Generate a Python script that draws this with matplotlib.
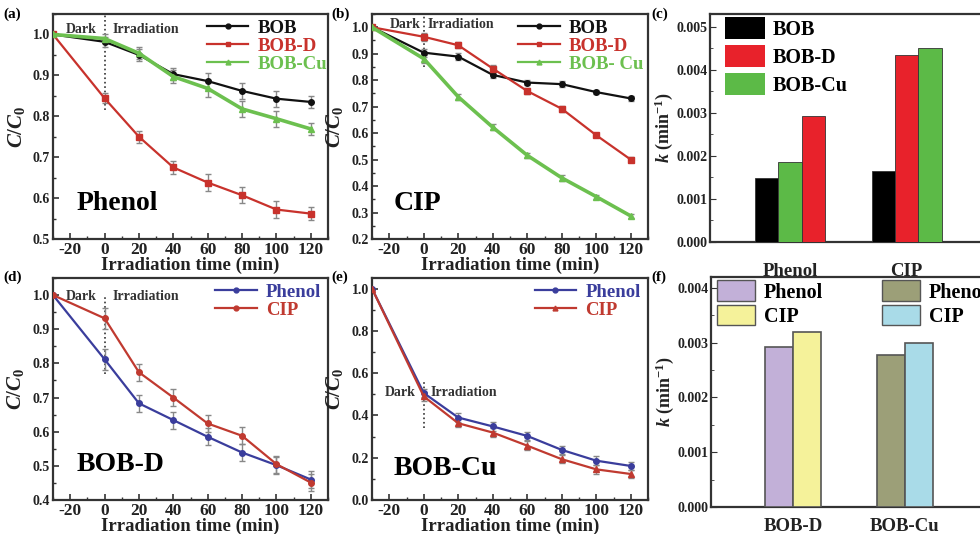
import matplotlib
matplotlib.use("Agg")
import matplotlib.pyplot as plt
from matplotlib.ticker import MultipleLocator, AutoMinorLocator, FormatStrFormatter
from matplotlib.patches import Patch
from matplotlib.lines import Line2D

plt.rcParams['font.family'] = ['Liberation Serif', 'DejaVu Serif']
plt.rcParams['font.weight'] = 'bold'
plt.rcParams['axes.labelweight'] = 'bold'
plt.rcParams['axes.unicode_minus'] = False
plt.rcParams['mathtext.fontset'] = 'custom'
plt.rcParams['mathtext.it'] = 'Liberation Serif:italic:bold'
plt.rcParams['mathtext.rm'] = 'Liberation Serif:bold'
plt.rcParams['mathtext.bf'] = 'Liberation Serif:bold'
plt.rcParams['axes.linewidth'] = 1.6
plt.rcParams['axes.edgecolor'] = '#333333'

# ---------------- data ----------------
time = [-30, 0, 20, 40, 60, 80, 100, 120]

# (a) Phenol
a_bob = [1.0, 0.982, 0.950, 0.903, 0.886, 0.862, 0.843, 0.835]
a_bobd = [1.0, 0.844, 0.750, 0.675, 0.638, 0.607, 0.572, 0.562]
a_bobcu = [1.0, 0.990, 0.954, 0.897, 0.868, 0.818, 0.794, 0.769]
a_err = [0.0, 0.012, 0.015, 0.015, 0.020, 0.020, 0.020, 0.015]

# (b) CIP
b_bob = [1.0, 0.904, 0.889, 0.820, 0.791, 0.785, 0.755, 0.731]
b_bobd = [1.0, 0.964, 0.932, 0.844, 0.759, 0.692, 0.592, 0.500]
b_bobcu = [1.0, 0.881, 0.737, 0.622, 0.516, 0.431, 0.360, 0.287]
b_err = [0.0, 0.015, 0.012, 0.012, 0.010, 0.012, 0.008, 0.008]

# (c) rate constants
c_groups = ['Phenol', 'CIP']
c_series = ['BOB', 'BOB-D', 'BOB-Cu']
c_values = {'BOB': [0.00148, 0.00166],
            'BOB-D': [0.00294, 0.00434],
            'BOB-Cu': [0.00187, 0.00451]}

# (d) BOB-D
d_phenol = [1.0, 0.812, 0.683, 0.634, 0.585, 0.539, 0.502, 0.460]
d_cip = [1.0, 0.932, 0.774, 0.700, 0.624, 0.588, 0.505, 0.451]
d_err = [0.0, 0.03, 0.025, 0.025, 0.025, 0.025, 0.025, 0.025]

# (e) BOB-Cu
e_phenol = [1.0, 0.506, 0.390, 0.348, 0.303, 0.237, 0.186, 0.161]
e_cip = [1.0, 0.490, 0.363, 0.319, 0.257, 0.193, 0.145, 0.123]
e_err = [0.0, 0.02, 0.02, 0.02, 0.02, 0.02, 0.02, 0.02]

# (f) rate constants
f_groups = ['BOB-D', 'BOB-Cu']
f_phenol = [0.00293, 0.00277]
f_cip = [0.00319, 0.00300]

# dotted Dark/Irradiation divider ranges (y extents)
dark_a = (0.815, 1.05)
dark_b = (0.85, 1.05)
dark_d = (0.77, 1.0)
dark_e = (0.34, 0.556)

# ---------------- styling ----------------
BLACK = '#111111'
RED = '#c8322c'
GREEN = '#6cc04f'
BLUE = '#3a3d9c'
RED2 = '#c03a30'
ERRC = '#888888'

fig = plt.figure(figsize=(9.8, 5.34), dpi=100)


def add_ax(l, r, t, b):
    return fig.add_axes([l / 980, 1 - b / 534, (r - l) / 980, (b - t) / 534])


def style_line_ax(ax, ylim, ymajor, ylx):
    ax.set_xlim(-30, 130)
    ax.set_ylim(*ylim)
    ax.xaxis.set_major_locator(MultipleLocator(20))
    ax.xaxis.set_minor_locator(MultipleLocator(10))
    ax.yaxis.set_major_locator(MultipleLocator(ymajor))
    ax.yaxis.set_minor_locator(AutoMinorLocator(2))
    ax.tick_params(which='both', direction='in', colors='#333333')
    ax.tick_params(which='major', length=4, width=1.2)
    ax.tick_params(which='minor', length=2, width=1.0)
    ax.tick_params(axis='x', labelsize=12.5, pad=2, labelcolor='#222222')
    ax.tick_params(axis='y', labelsize=10, pad=2, labelcolor='#222222')
    ax.set_xlabel('Irradiation time (min)', fontsize=13.5, labelpad=-1, color='#222222')
    ax.set_ylabel('$C/C_0$', fontsize=15, labelpad=0, color='#222222')
    ax.yaxis.set_label_coords(ylx, 0.5)


def series(ax, y, err, color, marker, lw=1.6, ms=4):
    ax.errorbar(time, y, yerr=err, color=color, marker=marker, ms=ms, lw=lw,
                ecolor=ERRC, elinewidth=1.0, capsize=2, capthick=1.0, zorder=3)


def line_legend(ax, items, x, y, fs=13.5):
    handles = [Line2D([], [], color=c, marker=m, ms=3.5, lw=1.6) for (_, c, m) in items]
    leg = ax.legend(handles, [t for (t, _, _) in items], loc='upper left',
                    bbox_to_anchor=(x, y), frameon=False, fontsize=fs,
                    handlelength=2.2, handletextpad=0.5, labelspacing=0.05,
                    borderpad=0, borderaxespad=0)
    for txt, (_, c, _) in zip(leg.get_texts(), items):
        txt.set_color(c)
    return leg


def dark_labels(ax, xd, yd, xi, yi, yr):
    ax.plot([0, 0], list(yr), ls=':', color='#333333', lw=1.2, zorder=2)
    ax.text(xd, yd, 'Dark', ha='center', va='center', fontsize=10, color='#333333')
    ax.text(xi, yi, 'Irradiation', ha='left', va='center', fontsize=10, color='#333333')


def style_bar_ax(ax, ylim, xpad):
    ax.set_ylim(*ylim)
    ax.tick_params(axis='x', length=0, pad=xpad, labelcolor='#222222')
    ax.yaxis.set_major_locator(MultipleLocator(0.001))
    ax.yaxis.set_minor_locator(AutoMinorLocator(2))
    ax.yaxis.set_major_formatter(FormatStrFormatter('%.3f'))
    ax.tick_params(axis='y', which='both', direction='in', labelsize=10, pad=2,
                   colors='#333333', labelcolor='#222222')
    ax.tick_params(axis='y', which='major', length=4)
    ax.tick_params(axis='y', which='minor', length=2)
    ax.set_ylabel('$k$ (min$^{-1}$)', fontsize=13, labelpad=1, color='#222222')


# ---------- (a) ----------
ax = add_ax(53, 328, 14, 239)
style_line_ax(ax, (0.5, 1.05), 0.1, -0.095)
series(ax, a_bob, a_err, BLACK, 'o')
series(ax, a_bobd, a_err, RED, 's')
series(ax, a_bobcu, a_err, GREEN, '^', lw=2.6)
dark_labels(ax, -13.5, 1.012, 4.5, 1.012, dark_a)
ax.text(0.233, 0.16, 'Phenol', transform=ax.transAxes, ha='center', va='center', fontsize=20)
line_legend(ax, [('BOB', BLACK, 'o'), ('BOB-D', RED, 's'), ('BOB-Cu', GREEN, '^')], 0.56, 0.975)
fig.text(3 / 980, 1 - 14 / 534, '(a)', fontsize=11, va='center', ha='left')

# ---------- (b) ----------
ax = add_ax(372, 648, 14, 239)
style_line_ax(ax, (0.2, 1.05), 0.1, -0.098)
series(ax, b_bob, b_err, BLACK, 'o')
series(ax, b_bobd, b_err, RED, 's')
series(ax, b_bobcu, b_err, GREEN, '^', lw=2.6)
dark_labels(ax, -10.5, 1.012, 2.3, 1.012, dark_b)
ax.text(0.163, 0.16, 'CIP', transform=ax.transAxes, ha='center', va='center', fontsize=20)
line_legend(ax, [('BOB', BLACK, 'o'), ('BOB-D', RED, 's'), ('BOB- Cu', GREEN, '^')], 0.53, 0.975)
fig.text(331 / 980, 1 - 14 / 534, '(b)', fontsize=11, va='center', ha='left')

# ---------- (c) ----------
ax = add_ax(710, 1000, 14, 242)
c_colors = {'BOB': '#000000', 'BOB-D': '#e8222b', 'BOB-Cu': '#5cba47'}
bw = 0.2
for gi, g in enumerate(c_groups):
    order = sorted(c_series, key=lambda s: c_values[s][gi])
    for k, s in enumerate(order):
        ax.bar(gi + (k - 1) * bw, c_values[s][gi], width=bw, color=c_colors[s],
               edgecolor='#333333', linewidth=0.6, zorder=3)
ax.set_xlim(-0.687, 1.80)
ax.set_xticks(range(len(c_groups)))
ax.set_xticklabels(c_groups, fontsize=13.5)
style_bar_ax(ax, (0, 0.0053), 15)
handles = [Patch(facecolor=c_colors[s], edgecolor='none') for s in c_series]
ax.legend(handles, c_series, loc='upper left', bbox_to_anchor=(0.05, 0.985), frameon=False,
          fontsize=14.5, handlelength=2.0, handleheight=1.3, handletextpad=0.4,
          labelspacing=0.25, borderpad=0, borderaxespad=0)
fig.text(651 / 980, 1 - 14 / 534, '(c)', fontsize=11, va='center', ha='left')

# ---------- (d) ----------
ax = add_ax(53, 328, 278, 500)
style_line_ax(ax, (0.4, 1.05), 0.1, -0.10)
series(ax, d_phenol, d_err, BLUE, 'o')
series(ax, d_cip, d_err, RED2, 'o')
dark_labels(ax, -13.5, 0.995, 4.5, 0.995, dark_d)
ax.text(0.244, 0.158, 'BOB-D', transform=ax.transAxes, ha='center', va='center', fontsize=20)
line_legend(ax, [('Phenol', BLUE, 'o'), ('CIP', RED2, 'o')], 0.59, 0.975)
fig.text(3 / 980, 1 - 277 / 534, '(d)', fontsize=11, va='center', ha='left')

# ---------- (e) ----------
ax = add_ax(372, 648, 278, 500)
style_line_ax(ax, (0.0, 1.05), 0.2, -0.098)
series(ax, e_phenol, e_err, BLUE, 'o')
series(ax, e_cip, e_err, RED2, '^')
dark_labels(ax, -13.4, 0.508, 3.9, 0.508, dark_e)
ax.text(0.264, 0.14, 'BOB-Cu', transform=ax.transAxes, ha='center', va='center', fontsize=20)
line_legend(ax, [('Phenol', BLUE, 'o'), ('CIP', RED2, '^')], 0.59, 0.975)
fig.text(331 / 980, 1 - 277 / 534, '(e)', fontsize=11, va='center', ha='left')

# ---------- (f) ----------
ax = add_ax(711, 1000, 277, 507)
fw = 0.25
f_cols = [('#c2b0d8', '#f5f29a'), ('#9c9f78', '#a9dbe8')]
for gi in range(len(f_groups)):
    ax.bar(gi - fw / 2, f_phenol[gi], width=fw, color=f_cols[gi][0], edgecolor='#555555',
           linewidth=1.2, zorder=3)
    ax.bar(gi + fw / 2, f_cip[gi], width=fw, color=f_cols[gi][1], edgecolor='#555555',
           linewidth=1.2, zorder=3)
ax.set_xlim(-0.732, 1.85)
ax.set_xticks(range(len(f_groups)))
ax.set_xticklabels(f_groups, fontsize=13.5)
style_bar_ax(ax, (0, 0.0042), 8)
leg_kw = dict(loc='upper left', frameon=False, fontsize=14.5, handlelength=1.9,
              handleheight=1.2, handletextpad=0.45, labelspacing=0.1, borderpad=0,
              borderaxespad=0)
leg1 = ax.legend([Patch(facecolor=f_cols[0][0], edgecolor='#555555'),
                  Patch(facecolor=f_cols[0][1], edgecolor='#555555')], ['Phenol', 'CIP'],
                 bbox_to_anchor=(0.02, 0.985), **leg_kw)
ax.add_artist(leg1)
ax.legend([Patch(facecolor=f_cols[1][0], edgecolor='#555555'),
           Patch(facecolor=f_cols[1][1], edgecolor='#555555')], ['Phenol', 'CIP'],
          bbox_to_anchor=(0.59, 0.985), **leg_kw)
fig.text(651 / 980, 1 - 277 / 534, '(f)', fontsize=11, va='center', ha='left')

fig.savefig('out.png', dpi=100)
